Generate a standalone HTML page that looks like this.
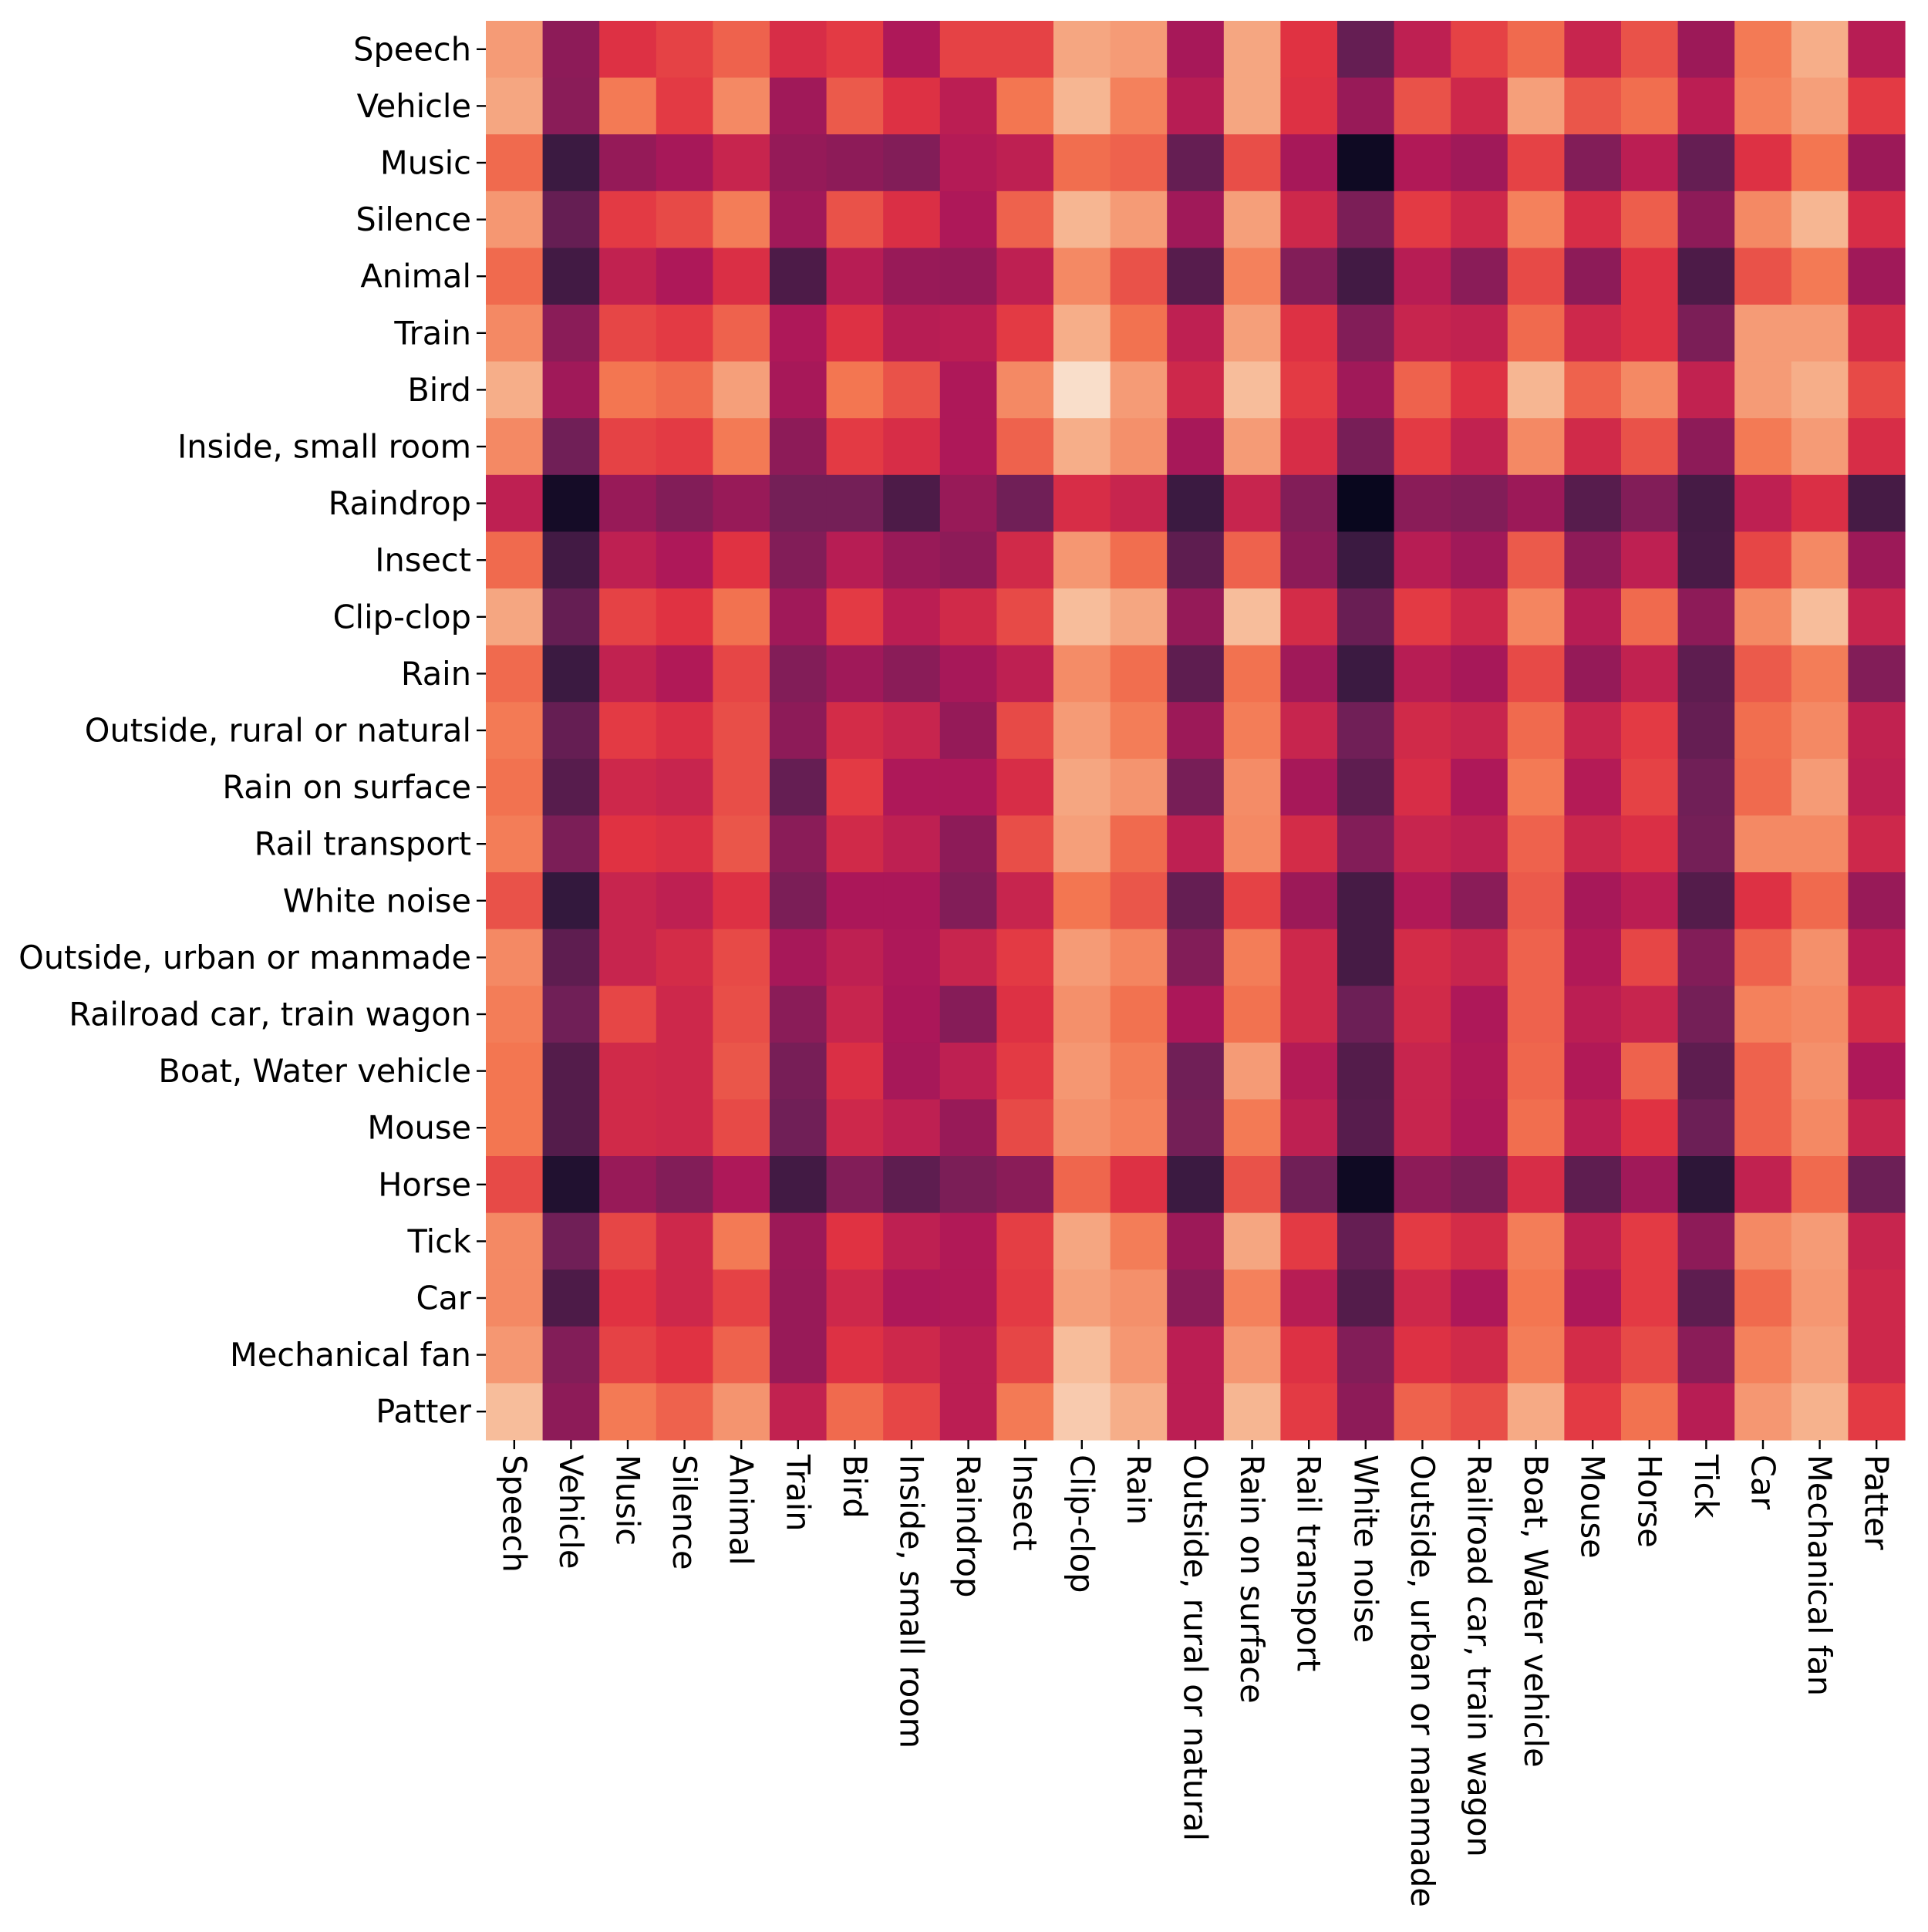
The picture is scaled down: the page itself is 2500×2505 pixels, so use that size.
<!DOCTYPE html>
<html><head><meta charset="utf-8"><style>
html,body{margin:0;padding:0;background:#fff;}
svg text{font-family:"DejaVu Sans","Liberation Sans",sans-serif;font-size:41.5px;fill:#000;}
</style></head><body>
<svg id="chart" width="2500" height="2500" xmlns="http://www.w3.org/2000/svg"></svg>
<script>
const labels = ["Speech","Vehicle","Music","Silence","Animal","Train","Bird","Inside, small room","Raindrop","Insect","Clip-clop","Rain","Outside, rural or natural","Rain on surface","Rail transport","White noise","Outside, urban or manmade","Railroad car, train wagon","Boat, Water vehicle","Mouse","Horse","Tick","Car","Mechanical fan","Patter"];
const rowSpeech=[.85,.33,.57,.62,.7,.55,.6,.42,.62,.62,.88,.85,.4,.88,.58,.22,.47,.62,.72,.5,.66,.37,.76,.9,.45];
const rowVehicle=[.88,.32,.76,.6,.8,.38,.68,.57,.46,.75,.92,.78,.45,.88,.57,.36,.66,.52,.86,.67,.73,.46,.78,.86,.6];
const rowMusic=[.72,.1,.35,.4,.5,.35,.33,.3,.44,.47,.73,.7,.22,.65,.4,.02,.43,.38,.62,.3,.46,.22,.57,.75,.37];
const rowSilence=[.84,.22,.6,.64,.77,.38,.66,.56,.42,.7,.92,.85,.38,.86,.52,.28,.6,.52,.78,.55,.69,.33,.8,.92,.55];
const rowAnimal=[.72,.12,.48,.42,.56,.15,.45,.36,.35,.47,.8,.66,.18,.78,.3,.12,.45,.32,.64,.33,.57,.15,.66,.76,.38];
const rowTrain=[.8,.32,.63,.6,.7,.42,.57,.45,.46,.6,.9,.74,.47,.86,.57,.3,.5,.48,.72,.52,.57,.28,.85,.85,.54];
const rowBird=[.9,.38,.75,.72,.86,.4,.75,.66,.42,.8,.98,.85,.52,.93,.6,.38,.7,.57,.92,.7,.8,.48,.85,.9,.64];
const rowInside=[.8,.25,.62,.6,.76,.33,.6,.55,.42,.7,.9,.82,.4,.85,.55,.27,.6,.48,.8,.53,.66,.33,.76,.85,.55];
const rowRaindrop=[.47,.03,.36,.3,.36,.26,.26,.15,.36,.25,.55,.5,.1,.5,.3,.01,.32,.3,.37,.18,.3,.13,.47,.56,.13];
const rowInsect=[.72,.12,.47,.42,.58,.3,.45,.36,.33,.53,.84,.73,.2,.7,.33,.1,.45,.38,.68,.33,.47,.14,.63,.8,.37];
const rowClipclop=[.88,.22,.62,.58,.74,.38,.6,.46,.53,.64,.93,.88,.35,.93,.54,.23,.6,.52,.79,.45,.72,.33,.8,.93,.5];
const rowRain=[.72,.1,.48,.43,.63,.3,.38,.32,.4,.47,.81,.73,.2,.74,.38,.1,.45,.4,.64,.35,.48,.2,.68,.77,.3];
const rowOutsideRural=[.76,.22,.6,.56,.65,.33,.54,.5,.35,.64,.85,.77,.37,.77,.5,.25,.53,.5,.72,.5,.6,.22,.73,.8,.48];
const rowRainSurface=[.74,.18,.52,.5,.65,.22,.6,.42,.42,.55,.88,.83,.27,.81,.4,.2,.55,.42,.76,.44,.62,.25,.72,.85,.47];
const rowRailTransport=[.77,.28,.58,.56,.67,.32,.53,.47,.33,.65,.86,.72,.47,.8,.54,.3,.5,.47,.7,.51,.56,.26,.8,.8,.52];
const rowWhiteNoise=[.66,.08,.5,.47,.57,.28,.41,.41,.3,.5,.75,.67,.22,.62,.37,.13,.43,.32,.68,.4,.46,.17,.57,.72,.36];
const rowOutsideUrban=[.8,.2,.5,.54,.64,.4,.47,.42,.5,.6,.85,.79,.3,.77,.52,.13,.54,.5,.7,.43,.63,.3,.7,.82,.46];
const rowRailroadCar=[.77,.25,.63,.52,.65,.32,.5,.41,.31,.57,.82,.74,.41,.74,.52,.24,.53,.42,.7,.46,.5,.26,.78,.8,.54];
const rowBoat=[.75,.17,.53,.52,.67,.27,.56,.4,.47,.6,.84,.77,.25,.85,.44,.17,.5,.43,.71,.43,.7,.2,.7,.82,.42];
const rowMouse=[.75,.17,.53,.52,.64,.25,.52,.47,.36,.64,.82,.78,.26,.76,.47,.18,.5,.42,.73,.46,.58,.24,.7,.8,.5];
const rowHorse=[.64,.05,.36,.3,.42,.12,.3,.2,.28,.32,.71,.57,.1,.66,.25,.02,.33,.28,.55,.2,.38,.07,.48,.72,.24];
const rowTick=[.8,.25,.63,.52,.76,.37,.58,.47,.43,.61,.88,.77,.37,.88,.6,.22,.6,.54,.77,.47,.6,.33,.8,.85,.5];
const rowCar=[.8,.15,.58,.52,.62,.36,.52,.42,.43,.6,.86,.82,.32,.78,.45,.17,.52,.42,.75,.42,.6,.2,.72,.84,.52];
const rowMechFan=[.84,.3,.62,.58,.7,.36,.57,.52,.46,.63,.93,.84,.46,.84,.57,.3,.57,.53,.77,.54,.64,.32,.78,.86,.52];
const rowPatter=[.93,.33,.76,.7,.83,.48,.72,.63,.46,.76,.95,.9,.46,.92,.6,.33,.7,.65,.89,.6,.74,.45,.84,.91,.6];
const values=[rowSpeech,rowVehicle,rowMusic,rowSilence,rowAnimal,rowTrain,rowBird,rowInside,rowRaindrop,rowInsect,rowClipclop,rowRain,rowOutsideRural,rowRainSurface,rowRailTransport,rowWhiteNoise,rowOutsideUrban,rowRailroadCar,rowBoat,rowMouse,rowHorse,rowTick,rowCar,rowMechFan,rowPatter];

const L=630,T=27,R=2470,B=1867;
const n=labels.length, cw=(R-L)/n, ch=(B-T)/n;
const xPos=i=>L+i*cw, yPos=j=>T+j*ch;
const stops=[[0,[3,5,26]],[1/12,[53,25,62]],[3/12,[112,31,87]],[5/12,[173,23,89]],[7/12,[225,51,66]],[9/12,[243,118,81]],[11/12,[246,180,143]],[1,[250,235,221]]];
function rocket(v){v=Math.max(0,Math.min(1,v));for(let k=1;k<stops.length;k++){if(v<=stops[k][0]){const a=stops[k-1],b=stops[k],t=(v-a[0])/(b[0]-a[0]);return 'rgb('+a[1].map((c,i)=>Math.round(c+(b[1][i]-c)*t)).join(',')+')';}}return 'rgb(250,235,221)';}
const svg=document.getElementById('chart'),NS='http://www.w3.org/2000/svg';
function mk(tag,attrs){const e=document.createElementNS(NS,tag);for(const k in attrs)e.setAttribute(k,attrs[k]);svg.appendChild(e);return e;}
for(let j=0;j<n;j++)for(let i=0;i<n;i++){
 const r=mk('rect',{x:xPos(i),y:yPos(j),width:cw+0.6,height:ch+0.6,fill:rocket(values[j][i])});
 
 
}
for(let j=0;j<n;j++){
 const y=yPos(j)+ch/2;
 const t=mk('line',{x1:L-12,x2:L,y1:y,y2:y,stroke:'#000','stroke-width':2.4});
 
 
 const tx=mk('text',{x:L-19,y:y,'text-anchor':'end','dominant-baseline':'central'});
 tx.textContent=labels[j];
 
 
}
for(let i=0;i<n;i++){
 const x=xPos(i)+cw/2;
 const t=mk('line',{x1:x,x2:x,y1:B,y2:B+12,stroke:'#000','stroke-width':2.4});
 
 
 const tx=mk('text',{x:0,y:0,'text-anchor':'start','dominant-baseline':'central',transform:'translate('+x+','+(B+19)+') rotate(90)'});
 tx.textContent=labels[i];
 
 
}
</script>
</body></html>
